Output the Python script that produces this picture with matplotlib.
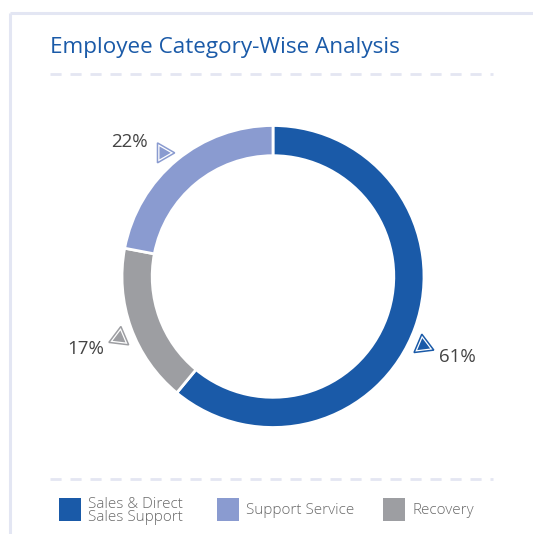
import numpy as np
import matplotlib.pyplot as plt
from matplotlib.patches import RegularPolygon, Rectangle

plt.rcParams['font.family'] = ['Open Sans', 'DejaVu Sans']

# employee share by category, in drawing order (clockwise from top)
categories = ["Sales & Direct\nSales Support", "Recovery", "Support Service"]
shares = [61, 17, 22]
colors = ["#1a5aa8", "#9d9ea2", "#8a9bd0"]

legend_order = ["Sales & Direct\nSales Support", "Support Service", "Recovery"]

W, H = 533, 534
fig = plt.figure(figsize=(W / 100, H / 100), dpi=100)

# overlay in pixel coords for card, title, separators, legend
bg = fig.add_axes([0, 0, 1, 1])
bg.set_xlim(0, W)
bg.set_ylim(H, 0)
bg.axis("off")

card = "#e3e6f3"
bg.plot([10, W], [13, 13], color=card, lw=2.2, solid_capstyle="butt")
bg.plot([10, 10], [13, H], color=card, lw=2.2, solid_capstyle="butt")

bg.text(50, 48, "Employee Category-Wise Analysis", color="#1a5aa8",
        fontsize=16.2, va="center", ha="left")
for y in (74, 479):
    bg.plot([50, 493], [y, y], color="#e4e6f2", lw=2, dashes=(4, 3.2))

# donut
cx, cy, r = 273, 276.5, 151
ax = fig.add_axes([(cx - r) / W, (H - cy - r) / H, 2 * r / W, 2 * r / H])
wedges, _ = ax.pie(shares, colors=colors, startangle=90, counterclock=False,
                   radius=1, wedgeprops=dict(width=0.2, edgecolor="white", linewidth=2))
ax.set_xlim(-1, 1)
ax.set_ylim(-1, 1)
ax.set_aspect("equal")
ax.axis("off")

# value markers and labels near each wedge's mid angle
nudge = [-4.9, 2.0, 2.0]       # degrees
apex = [97, 83, 0]             # triangle tip direction on screen, degrees
for i, (w, val) in enumerate(zip(wedges, shares)):
    mid = np.deg2rad((w.theta1 + w.theta2) / 2 + nudge[i])
    tx, ty = cx + 1.095 * r * np.cos(mid), cy - 1.095 * r * np.sin(mid)
    rot = np.deg2rad(-apex[i] - 90)
    bg.add_patch(RegularPolygon((tx, ty), 3, radius=11.5, orientation=rot,
                                facecolor="white", edgecolor=colors[i], lw=1.1))
    bg.add_patch(RegularPolygon((tx, ty), 3, radius=7.5, orientation=rot,
                                facecolor=colors[i], edgecolor="none"))
    lx = tx + 34 * np.sign(np.cos(mid))
    ly = ty - 11 * np.sign(np.sin(mid))
    bg.text(lx, ly, f"{val}%", color="#444444", fontsize=13.5,
            ha="center", va="center")

# legend
leg_x = [59, 217, 383]
for x, name in zip(leg_x, legend_order):
    c = colors[categories.index(name)]
    bg.add_patch(Rectangle((x, 498), 22, 23, facecolor=c, edgecolor="none"))
    bg.text(x + 29, 511, name, color="#6a6a6a", fontsize=11, fontweight="light",
            ha="left", va="center", linespacing=0.8)

fig.savefig("out.png", dpi=100)
